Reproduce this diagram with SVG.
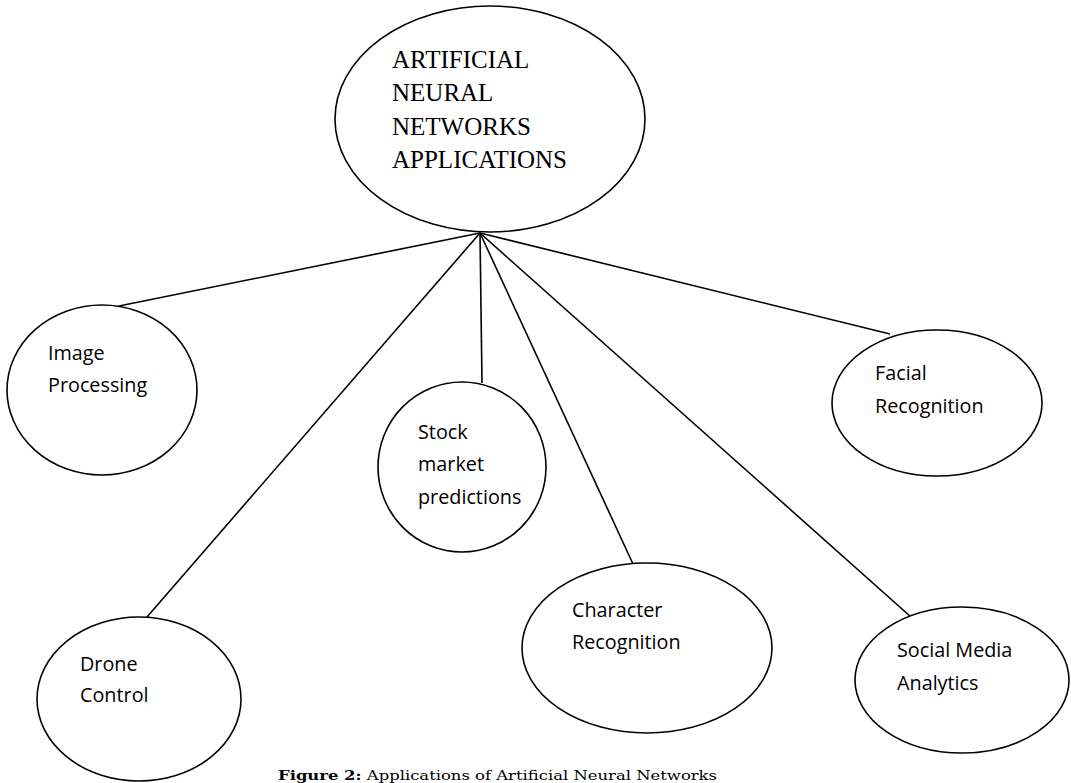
<svg xmlns="http://www.w3.org/2000/svg" width="1071" height="783" viewBox="0 0 1071 783">
<style>
.n{fill:#fff;stroke:#000;stroke-width:1.6}
.c{stroke:#000;stroke-width:1.6;fill:none}
.t{font-family:"Open Sans","Noto Sans",sans-serif;font-size:19.8px;fill:#000}
.h{font-family:"Liberation Serif","Times New Roman",serif;font-size:25px;fill:#000}
.cap{font-family:"DejaVu Serif",Georgia,serif;font-size:13px;fill:#000}
</style>
<rect width="1071" height="783" fill="#fff"/>
<g id="connectors">
<line class="c" x1="480" y1="233" x2="119" y2="306"/>
<line class="c" x1="480" y1="233" x2="147" y2="617"/>
<line class="c" x1="480" y1="233" x2="482" y2="383"/>
<line class="c" x1="480" y1="233" x2="633" y2="564"/>
<line class="c" x1="480" y1="233" x2="911" y2="617"/>
<line class="c" x1="480" y1="233" x2="890" y2="334"/>
</g>
<g id="root">
<ellipse class="n" cx="490" cy="119" rx="155" ry="113"/>
<text class="h" x="392" y="68">ARTIFICIAL</text>
<text class="h" x="392" y="101">NEURAL</text>
<text class="h" x="392" y="135">NETWORKS</text>
<text class="h" x="392" y="168">APPLICATIONS</text>
</g>
<g id="image-processing">
<ellipse class="n" cx="102" cy="390" rx="95" ry="85"/>
<text class="t" x="48" y="360">Image</text>
<text class="t" x="48" y="392">Processing</text>
</g>
<g id="stock">
<ellipse class="n" cx="462" cy="467" rx="84" ry="85"/>
<text class="t" x="418" y="439">Stock</text>
<text class="t" x="418" y="471">market</text>
<text class="t" x="418" y="504">predictions</text>
</g>
<g id="facial">
<ellipse class="n" cx="937" cy="403" rx="105" ry="73"/>
<text class="t" x="875" y="380">Facial</text>
<text class="t" x="875" y="413">Recognition</text>
</g>
<g id="drone">
<ellipse class="n" cx="139" cy="699" rx="102" ry="82"/>
<text class="t" x="80" y="671">Drone</text>
<text class="t" x="80" y="702">Control</text>
</g>
<g id="character">
<ellipse class="n" cx="647" cy="648" rx="125" ry="85"/>
<text class="t" x="572" y="617">Character</text>
<text class="t" x="572" y="649">Recognition</text>
</g>
<g id="social">
<ellipse class="n" cx="962" cy="680" rx="107" ry="73"/>
<text class="t" x="897" y="657">Social Media</text>
<text class="t" x="897" y="690">Analytics</text>
</g>
<text class="cap" x="278" y="780" textLength="439" lengthAdjust="spacingAndGlyphs"><tspan font-weight="bold">Figure 2:</tspan> Applications of Artificial Neural Networks</text>
</svg>
